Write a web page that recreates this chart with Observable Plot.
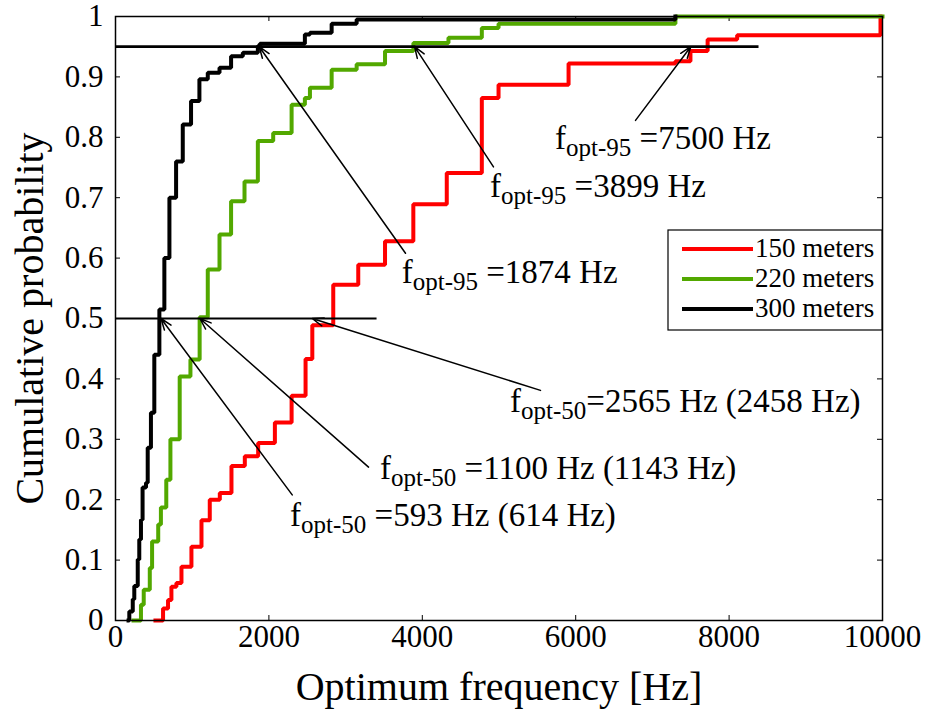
<!DOCTYPE html>
<html>
<head>
<meta charset="utf-8">
<script src="https://cdn.jsdelivr.net/npm/d3@7"></script>
<script src="https://cdn.jsdelivr.net/npm/@observablehq/plot@0.6"></script>
<style>
  body { margin: 0; background: #ffffff; }
  #chart { width: 947px; height: 713px; }
  #chart svg, #chart svg text { font-family: "Liberation Serif", "Times New Roman", Times, serif !important; }
  #chart svg text { white-space: pre; }
</style>
</head>
<body>
<div id="chart"></div>
<script>
// Empirical CDFs of the optimum frequency for three ranges (step points: value after each jump)
const seriesNames = ["150 meters", "220 meters", "300 meters"];
const seriesColors = ["#ff0000", "#52a800", "#000000"];

const freq150 = [521, 620, 685, 729, 794, 860, 990, 1121, 1229, 1360, 1512, 1686, 1860, 2078, 2296, 2478, 2566, 2839, 3165, 3514, 3883, 4319, 4776, 4994, 5907, 7300, 7496, 7720, 8105, 9974];
const prob150 = [0, 0.02, 0.034, 0.056, 0.062, 0.089, 0.122, 0.166, 0.2, 0.211, 0.256, 0.272, 0.294, 0.328, 0.372, 0.433, 0.489, 0.556, 0.589, 0.628, 0.689, 0.741, 0.865, 0.887, 0.922, 0.926, 0.943, 0.962, 0.969, 1.0];

const freq220 = [235, 332, 368, 447, 477, 557, 592, 662, 716, 837, 977, 1097, 1203, 1356, 1507, 1682, 1856, 2056, 2296, 2469, 2535, 2818, 3144, 3514, 3884, 4341, 4776, 4994, 7300, 10000];
const prob220 = [0, 0.026, 0.051, 0.087, 0.131, 0.159, 0.187, 0.233, 0.3, 0.404, 0.432, 0.502, 0.581, 0.639, 0.694, 0.727, 0.794, 0.807, 0.854, 0.865, 0.882, 0.912, 0.921, 0.943, 0.956, 0.965, 0.981, 0.988, 1.0, 1.0];

const freq300 = [170, 180, 225, 245, 290, 310, 332, 353, 398, 420, 462, 506, 572, 637, 703, 790, 877, 985, 1094, 1203, 1356, 1507, 1660, 1856, 1882, 2469, 2535, 2818, 3144, 7300];
const prob300 = [0, 0.015, 0.035, 0.057, 0.101, 0.134, 0.167, 0.22, 0.228, 0.286, 0.344, 0.44, 0.515, 0.6, 0.7, 0.76, 0.821, 0.86, 0.896, 0.907, 0.915, 0.934, 0.94, 0.951, 0.955, 0.97, 0.973, 0.988, 0.995, 1.0];

// Reference levels (median and 95th percentile) and how far each guide line runs
const refLevels = [0.5, 0.95];
const refEnds = [3410, 8390];
const refWidths = [2.2, 2.8];

// Annotations: arrow tip (stated value at its level), arrow tail, and label anchor
const tipFreq = [1874, 3899, 7500, 2565, 1100, 593];
const tipProb = [0.95, 0.95, 0.95, 0.5, 0.5, 0.5];
const tailFreq = [3781, 4928, 6780, 5541, 3299, 2304];
const tailProb = [0.608, 0.751, 0.828, 0.381, 0.254, 0.208];
const labelFreq = [3738, 4889, 5737, 5150, 3455, 2282];
const labelProb = [0.558, 0.701, 0.779, 0.345, 0.234, 0.155];
const labelSub = ["opt-95", "opt-95", "opt-95", "opt-50", "opt-50", "opt-50"];
const labelRest = [" =1874 Hz", " =3899 Hz", " =7500 Hz", "=2565 Hz (2458 Hz)", " =1100 Hz (1143 Hz)", " =593 Hz (614 Hz)"];

// Axis ticks
const xTicks = [0, 2000, 4000, 6000, 8000, 10000];
const yTicks = [0, 0.1, 0.2, 0.3, 0.4, 0.5, 0.6, 0.7, 0.8, 0.9, 1];
const yTickLabels = ["0", "0.1", "0.2", "0.3", "0.4", "0.5", "0.6", "0.7", "0.8", "0.9", "1"];

const xLabel = "Optimum frequency [Hz]";
const yLabel = "Cumulative probability";

// ---- layout ----
const W = 947, H = 713;
const M = {top: 16, right: 65, bottom: 93, left: 115};
const frameW = W - M.left - M.right;
const frameH = H - M.top - M.bottom;
const serif = "Liberation Serif";
const tickLen = 5;

const seriesFreq = [freq150, freq220, freq300];
const seriesProb = [prob150, prob220, prob300];
const rows = seriesNames.flatMap((name, i) =>
  seriesFreq[i].map((f, j) => ({series: name, f, p: seriesProb[i][j]}))
);
const refRows = refLevels.map((p, i) => ({p, end: refEnds[i], w: refWidths[i]}));
const arrowRows = tipFreq.map((f, i) => ({
  x1: tailFreq[i], y1: tailProb[i], x2: f, y2: tipProb[i]
}));

const plot = Plot.plot({
  width: W,
  height: H,
  marginTop: M.top,
  marginRight: M.right,
  marginBottom: M.bottom,
  marginLeft: M.left,
  style: {fontFamily: serif, background: "#ffffff", color: "#000000"},
  x: {domain: [0, 10000]},
  y: {domain: [0, 1]},
  color: {domain: seriesNames, range: seriesColors},
  marks: [
    Plot.axisX({ticks: xTicks, tickSize: 0, tickPadding: 4, fontSize: 31, fontFamily: serif,
      tickFormat: d => String(d), label: null}),
    Plot.axisY({ticks: yTicks, tickSize: 0, tickPadding: 12, fontSize: 31, fontFamily: serif,
      tickFormat: d => yTickLabels[yTicks.indexOf(d)] ?? String(d), label: null}),
    // inward tick marks on all four sides
    Plot.ruleX(xTicks, {x: d => d, insetTop: frameH - tickLen, strokeWidth: 1}),
    Plot.ruleX(xTicks, {x: d => d, insetBottom: frameH - tickLen, strokeWidth: 1}),
    Plot.ruleY(yTicks, {y: d => d, insetRight: frameW - tickLen, strokeWidth: 1}),
    Plot.ruleY(yTicks, {y: d => d, insetLeft: frameW - tickLen, strokeWidth: 1}),
    // cumulative distributions
    Plot.line(rows, {x: "f", y: "p", z: "series", stroke: "series", strokeWidth: 4,
      curve: "step-after", strokeLinejoin: "miter", strokeLinecap: "square"}),
    // guide lines at the 50% and 95% levels
    Plot.ruleY(refRows, {y: "p", x1: 0, x2: "end", stroke: "#000000", strokeWidth: d => d.w}),
    // arrows pointing at the quoted frequencies
    Plot.arrow(arrowRows, {x1: "x1", y1: "y1", x2: "x2", y2: "y2", stroke: "#000000",
      strokeWidth: 1.5, headLength: 12, headAngle: 40}),
    Plot.frame({stroke: "#000000", strokeWidth: 1.5}),
    Plot.text([xLabel], {text: d => d, frameAnchor: "bottom", textAnchor: "middle", dy: 79,
      lineAnchor: "bottom", fontSize: 40, fontFamily: serif}),
    Plot.text([yLabel], {text: d => d, frameAnchor: "left", textAnchor: "middle", rotate: -90, dx: -73,
      lineAnchor: "bottom", fontSize: 40, fontFamily: serif})
  ]
});

// Annotation labels with subscripts, placed through the plot's own scales
const xs = plot.scale("x"), ys = plot.scale("y");
const svg = d3.select(plot);
const ann = svg.append("g").attr("font-family", serif).attr("font-size", 33)
  .attr("fill", "#000000").attr("text-anchor", "start");
labelFreq.forEach((f, i) => {
  const t = ann.append("text").attr("x", xs.apply(f)).attr("y", ys.apply(labelProb[i]));
  t.append("tspan").text("f");
  t.append("tspan").attr("font-size", 25).attr("dy", 7).text(labelSub[i]);
  t.append("tspan").attr("dy", -7).text(labelRest[i]);
});

// Legend box inside the frame, flush with its right edge
const right = xs.range[1];
const legW = 214, legH = 100;
const legX = right - legW, legY = M.top + 214;
const leg = svg.append("g").attr("font-family", serif).attr("font-size", 27).attr("text-anchor", "start");
leg.append("rect").attr("x", legX).attr("y", legY).attr("width", legW).attr("height", legH)
  .attr("fill", "#ffffff").attr("stroke", "#000000").attr("stroke-width", 1.2);
seriesNames.forEach((name, i) => {
  const cy = legY + 19 + i * 30;
  leg.append("line").attr("x1", legX + 14).attr("x2", legX + 85).attr("y1", cy).attr("y2", cy)
    .attr("stroke", seriesColors[i]).attr("stroke-width", 4);
  leg.append("text").attr("x", legX + 87).attr("y", cy + 8).text(name);
});

document.getElementById("chart").appendChild(plot);
</script>
</body>
</html>
